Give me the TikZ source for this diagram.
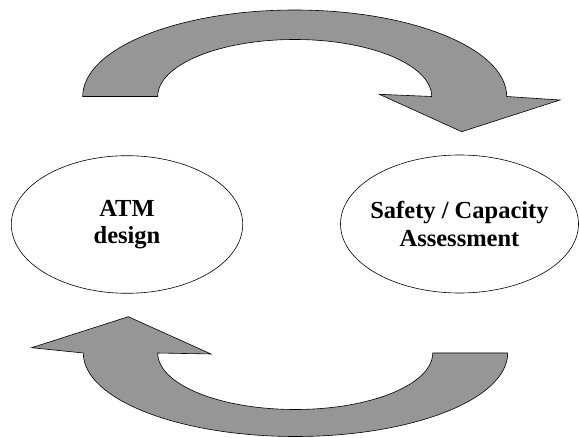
\documentclass[tikz,border=0pt]{standalone}
\usepackage{fontspec}
\setmainfont{Liberation Serif}
\usetikzlibrary{shapes.geometric}
\definecolor{arrowgray}{RGB}{150,150,150}
\tikzset{
  bigarrow/.style={fill=arrowgray, draw=black, line width=0.6pt, line join=miter},
  bubble/.style={ellipse, draw=black, line width=0.6pt, fill=white, inner sep=0pt},
  bubbletext/.style={align=center, inner sep=0pt, font=\fontsize{24.5}{27.5}\selectfont\bfseries}
}
\begin{document}
\begin{tikzpicture}[x=1pt,y=1pt]
\useasboundingbox (0,0) rectangle (579,437);
% top arrow
\draw[bigarrow] (82.7,340.5)
  arc[start angle=180, end angle=0, x radius=212pt, y radius=86.5pt]
  -- (560,337) -- (461.7,305.3) -- (379.3,342.7) -- (431.7,340.5)
  arc[start angle=0, end angle=180, x radius=137pt, y radius=57pt]
  -- cycle;
% bottom arrow
\draw[bigarrow] (507.7,84)
  arc[start angle=0, end angle=-180, x radius=212.2pt, y radius=83.5pt]
  -- (31.7,89.3) -- (128.3,120.3) -- (211,83) -- (157.7,84)
  arc[start angle=180, end angle=360, x radius=137.5pt, y radius=56.5pt]
  -- cycle;
% ellipses
\node[bubble, minimum width=231.4pt, minimum height=137.6pt] (atm) at (127,212.5) {};
\node[bubbletext] (atmtext) at (atm.center) {ATM\\design};
\node[bubble, minimum width=238pt, minimum height=138pt] (safety) at (459.5,213) {};
\node[bubbletext] (safetytext) at (safety.center) {Safety / Capacity\\Assessment};
\end{tikzpicture}
\end{document}
